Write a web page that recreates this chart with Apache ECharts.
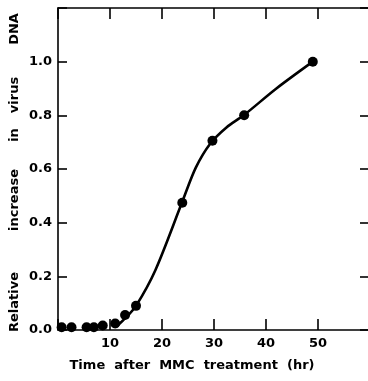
<!DOCTYPE html>
<html>
<head>
<meta charset="utf-8">
<script src="https://cdn.jsdelivr.net/npm/echarts@6/dist/echarts.min.js"></script>
<style>html,body{margin:0;padding:0;background:#fff}#c{width:368px;height:381px}</style>
</head>
<body>
<div id="c"></div>
<script>
// Measured data points (time in hr, relative increase)
const pointTimes  = [0.7, 2.6, 5.5, 6.9, 8.6, 11.0, 12.9, 15.0, 23.9, 29.7, 35.8, 49.0];
const pointValues = [0.01, 0.01, 0.01, 0.01, 0.017, 0.024, 0.056, 0.09, 0.474, 0.705, 0.80, 1.0];
// Hand-drawn fitted curve
const curveTimes  = [11.2, 13.0, 15.0, 18.7, 23.9, 26.5, 29.3, 32.4, 35.7, 42.0, 49.0];
const curveValues = [0.012, 0.045, 0.09, 0.222, 0.478, 0.605, 0.695, 0.755, 0.80, 0.90, 1.0];
const xTicks = [10, 20, 30, 40, 50];
const yTicks = [0.0, 0.2, 0.4, 0.6, 0.8, 1.0];
const yTitleWords = ['Relative', 'increase', 'in', 'virus', 'DNA'];
const yTitleCenters = [302, 200, 135, 95, 29];

const chart = echarts.init(document.getElementById('c'), null, {renderer: 'canvas'});
const FONT = 'DejaVu Sans';
const axisLine = {show: true, onZero: false, lineStyle: {color: '#000', width: 1.6}};
const tickStyle = {color: '#000', width: 1.6};
chart.setOption({
  animation: false,
  grid: {left: 58, right: -2, top: 8, bottom: 51, outerBoundsMode: 'none', containLabel: false},
  graphic: yTitleWords.map((w, i) => ({
    type: 'text', x: 15, y: yTitleCenters[i], rotation: Math.PI / 2,
    style: {text: w, fill: '#000', font: 'bold 13px "DejaVu Sans"', textAlign: 'center', textVerticalAlign: 'middle'}
  })),
  xAxis: [{
    type: 'value', min: 0, max: 60, interval: 10, position: 'bottom',
    axisLine: axisLine,
    axisTick: {show: true, inside: true, length: 11, lineStyle: tickStyle},
    splitLine: {show: false},
    axisLabel: {
      margin: 7, color: '#000', fontFamily: FONT, fontWeight: 'bold', fontSize: 13,
      formatter: v => xTicks.includes(v) ? String(v) : ''
    },
    name: 'Time  after  MMC  treatment  (hr)', nameLocation: 'middle', nameGap: 29,
    nameTextStyle: {color: '#000', fontFamily: FONT, fontWeight: 'bold', fontSize: 13, padding: [0, 44, 0, 0]}
  }, {
    type: 'value', min: 0, max: 60, interval: 10, position: 'top',
    axisLine: axisLine,
    axisTick: {show: true, inside: true, length: 11, lineStyle: tickStyle},
    axisLabel: {show: false}, splitLine: {show: false}
  }],
  yAxis: [{
    type: 'value', min: 0, max: 1.2, interval: 0.2, position: 'left',
    axisLine: axisLine,
    axisTick: {show: true, inside: true, length: 9, lineStyle: tickStyle},
    splitLine: {show: false},
    axisLabel: {
      margin: 6, color: '#000', fontFamily: FONT, fontWeight: 'bold', fontSize: 13,
      formatter: v => yTicks.some(t => Math.abs(t - v) < 1e-6) ? v.toFixed(1) : ''
    }
  }, {
    type: 'value', min: 0, max: 1.2, interval: 0.2, position: 'right',
    axisLine: axisLine,
    axisTick: {show: true, inside: true, length: 10, lineStyle: tickStyle},
    axisLabel: {show: false}, splitLine: {show: false}
  }],
  series: [{
    type: 'line', smooth: 0.3, showSymbol: false, symbol: 'none',
    data: curveTimes.map((t, i) => [t, curveValues[i]]),
    lineStyle: {color: '#000', width: 2.6}
  }, {
    type: 'scatter', symbol: 'circle', symbolSize: 10,
    data: pointTimes.map((t, i) => [t, pointValues[i]]),
    itemStyle: {color: '#000', opacity: 1}
  }]
});
</script>
</body>
</html>
